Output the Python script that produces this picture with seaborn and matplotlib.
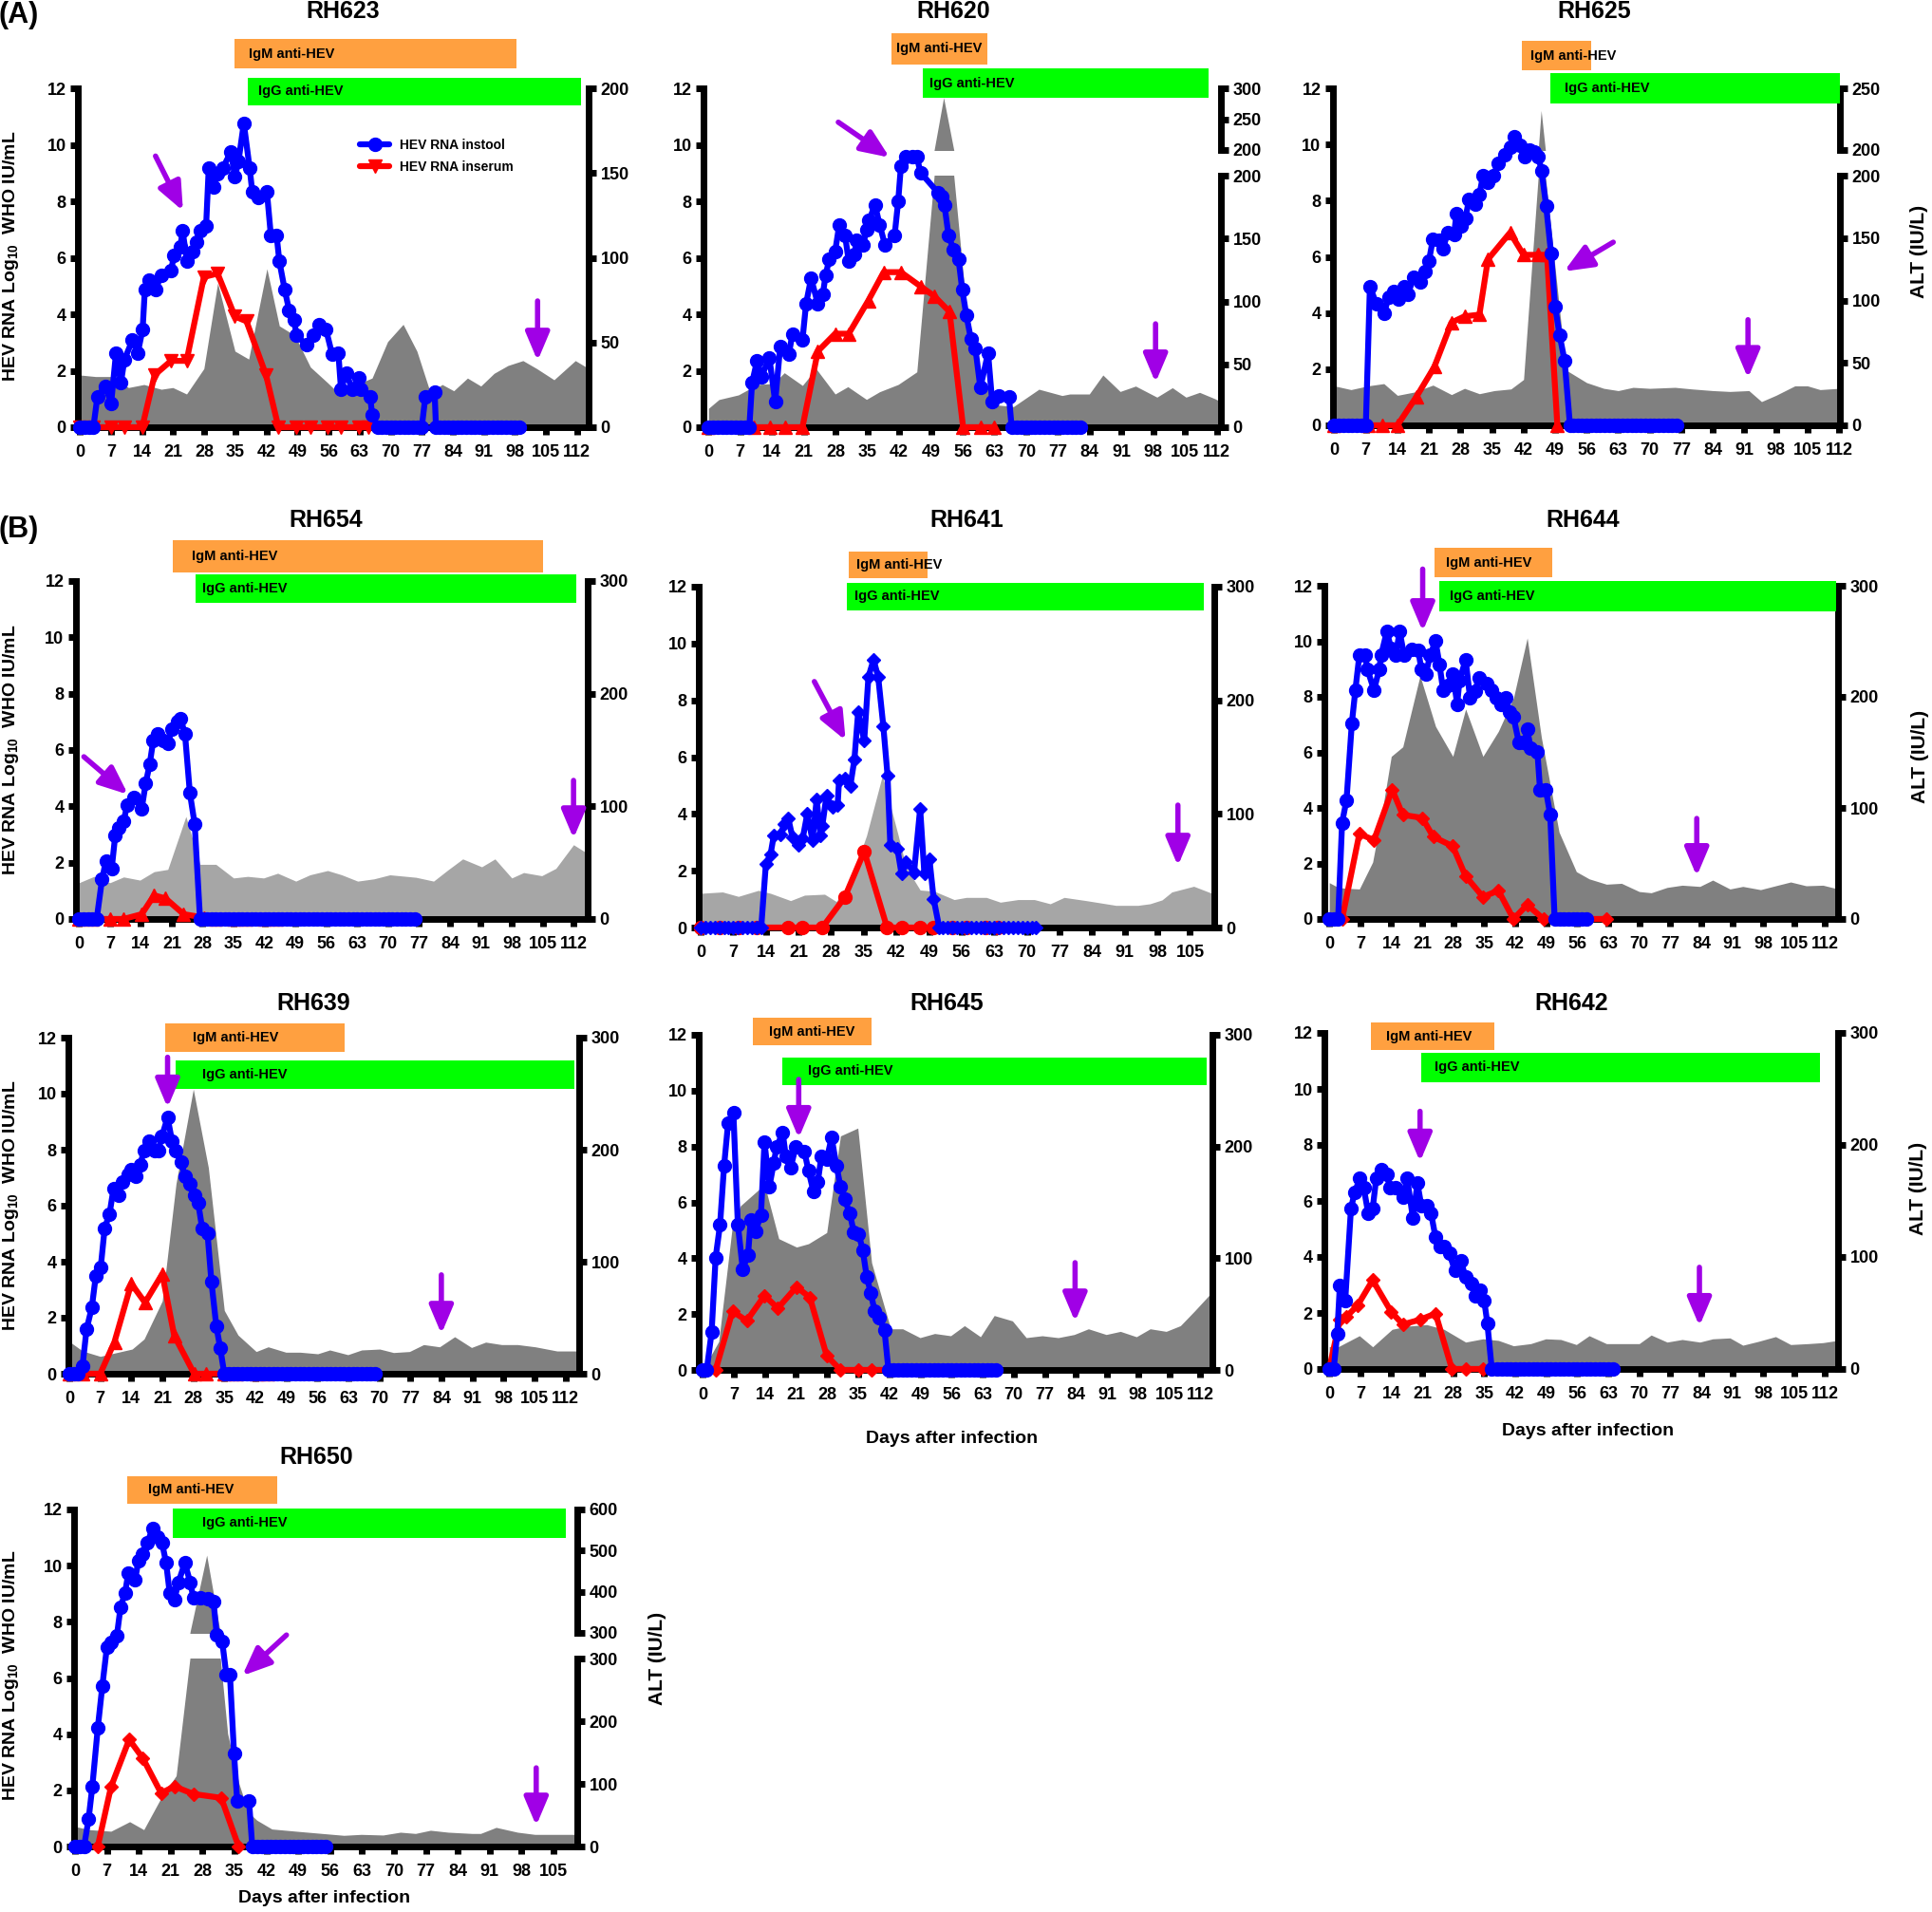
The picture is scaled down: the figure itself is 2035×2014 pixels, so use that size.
import matplotlib
matplotlib.use("Agg")
import matplotlib.pyplot as plt
import seaborn as sns
from matplotlib.patches import Rectangle

# ---------------- DATA (days after infection / values) ----------------
# RH623
rh623_stool_day = [0, 1, 2, 3, 3.9, 5.7, 7, 8.1, 9.2, 10, 11.8, 13, 14.1, 14.6, 15.6, 17, 18.3, 20.5, 21.2, 22.6, 23.1,
                   24.1, 25.4, 26.2, 27.2, 28.4, 29, 30.1, 31, 32.2, 34, 34.9, 35.7, 36.9, 38.2, 38.8, 40.1, 42.1, 43,
                   44.3, 44.9, 46.1, 47.1, 48.2, 48.8, 51, 52.6, 53.8, 55.4, 56.8, 58.2, 58.8, 60, 61.3, 62.8, 63.2,
                   65.4, 65.8, 67.1,
                   68, 69, 70, 71, 72, 73, 74, 75, 76, 77,
                   77.8, 79.9, 80.2,
                   81, 82, 83, 84, 85, 86, 87, 88, 89, 90, 91, 92, 93, 94, 95, 96, 97, 98, 99]
rh623_stool = [0, 0, 0, 0, 1.07, 1.46, 0.84, 2.63, 1.57, 2.4, 3.08, 2.63, 3.47, 4.88, 5.21, 4.88, 5.38, 5.55, 6.1, 6.39,
               6.95, 5.88, 6.22, 6.56, 6.95, 7.12, 9.19, 8.52, 8.97, 9.19, 9.75, 8.86, 9.42, 10.76, 9.19, 8.35, 8.13,
               8.35, 6.78, 6.78, 5.88, 4.88, 4.15, 3.81, 3.25, 2.91, 3.25, 3.64, 3.47, 2.58, 2.63, 1.35, 1.91, 1.35,
               1.74, 1.35, 1.07, 0.45, 0,
               0, 0, 0, 0, 0, 0, 0, 0, 0, 0,
               1.07, 1.23, 0,
               0, 0, 0, 0, 0, 0, 0, 0, 0, 0, 0, 0, 0, 0, 0, 0, 0, 0, 0]
rh623_serum_day = [0, 3, 7, 10, 14, 16.8, 20.5, 24, 27.9, 31, 34.9, 37.5, 41.9, 44.7, 48.8, 51.9, 55.8, 58.8, 62.8, 65]
rh623_serum = [0, 0, 0, 0, 0, 1.85, 2.35, 2.35, 5.32, 5.44, 3.92, 3.75, 1.85, 0, 0, 0, 0, 0, 0, 0]
rh623_alt_day = [0, 3.5, 7, 10.9, 14.4, 18.3, 20.9, 24, 27.9, 31, 34.9, 38, 42.1, 44.9, 48.4, 51.9, 55.8, 58.8, 62.3,
                 65.8, 69.3, 72.8, 75.9, 78.9, 81.6, 84.2, 87.3, 90.3, 93.3, 96.4, 99.8, 102.9, 106.8, 111.6, 114.6]
rh623_alt = [30.8, 29.9, 29.9, 23.4, 25.2, 22.4, 23.4, 19.6, 34.6, 85, 44.9, 40.2, 93.5, 59.8, 54.2, 35.5, 26.2, 18.7,
             25.2, 29, 50.5, 60.7, 44.9, 20.6, 25.2, 21.5, 29, 24.3, 31.8, 36.4, 39.3, 34.6, 28, 39.3, 34.6]
rh623_igm = (34.7, 98.4)
rh623_igg = (37.9, 112.8)

# RH620
rh620_stool_day = [0, 1, 2, 3, 4, 5, 6, 7, 8, 9,
                   9.6, 10.7, 11.7, 13.4, 14.7, 15.8, 17.7, 18.5, 20.7, 21.5, 22.6, 24.1, 25.2, 25.8, 26.6, 27.9,
                   28.8, 30.1, 30.9, 32.2, 32.6, 34.1, 34.8, 35.4, 36.7, 37.7, 38.9, 41, 41.8, 42.4, 43.4, 45, 45.9,
                   46.7, 50.6, 51.4, 52, 52.9, 54, 55.1, 55.9, 56.8, 57.8, 58.8, 59.9, 61.6, 62.5, 64, 66.2, 66.8,
                   68, 69, 70, 71, 72, 73, 74, 75, 76, 77, 78, 79, 80, 81, 82]
rh620_stool = [0, 0, 0, 0, 0, 0, 0, 0, 0, 0,
               1.57, 2.35, 1.79, 2.47, 0.9, 2.86, 2.58, 3.31, 3.08, 4.37, 5.27, 4.37, 4.71, 5.38, 5.94, 6.22, 7.15,
               6.78, 5.88, 6.11, 6.61, 6.45, 7.0, 7.34, 7.87, 7.17, 6.45, 6.78, 8.01, 9.25, 9.58, 9.58, 9.58, 9.02,
               8.3, 8.18, 7.85, 6.78, 6.28, 5.94, 4.88, 3.98, 3.14, 2.8, 1.4, 2.63, 0.9, 1.12, 1.07, 0,
               0, 0, 0, 0, 0, 0, 0, 0, 0, 0, 0, 0, 0, 0, 0]
rh620_serum_day = [0, 10, 13.6, 16.8, 20.7, 24.1, 27.9, 30.9, 35.2, 38.6, 42.4, 46.7, 49.7, 53.1, 56.1, 59.9, 62.9]
rh620_serum = [0, 0, 0, 0, 0, 2.69, 3.31, 3.31, 4.48, 5.49, 5.49, 4.99, 4.65, 4.09, 0, 0, 0]
rh620_alt_day = [0, 2.3, 6.6, 10.8, 14.3, 16.7, 20.7, 23.7, 27.9, 30.7, 34.8, 37.7, 41.8, 45.9, 51.8, 57, 60.4, 63.8,
                 67.2, 72.8, 77.9, 79.6, 83.9, 86.9, 90.7, 94.1, 98.8, 102.2, 105.2, 108.2, 111.6, 113]
rh620_alt = [15, 22, 25.7, 34, 34.7, 43.3, 33.2, 46.5, 26.4, 32.2, 22.1, 28.2, 34, 44, 285, 88, 37.7, 17.6, 16.4,
             30.2, 25.2, 26.4, 26.4, 41.5, 28.4, 32.7, 23.9, 31.4, 23.9, 27.7, 22.6, 20]
rh620_igm = (40.3, 61.4)
rh620_igg = (47.3, 110.2)

# RH625
rh625_stool_day = [0, 1, 2, 3, 4, 5, 6, 7,
                   7.9, 9.3, 11, 12.1, 13.1, 14.2, 15.4, 16.3, 17.7, 19.1, 20.1, 21, 21.9, 23.3, 24.1, 25.2, 26.6,
                   27.1, 28.2, 29.1, 29.9, 31.3, 32.2, 33, 34.1, 35.3, 36.4, 37.8, 39.2, 39.9, 41.1, 42.3, 43.4, 44.4,
                   45.3, 46, 47, 48.1, 49, 50, 51.1, 52.3,
                   53, 54, 55, 56, 57, 58, 59, 60, 61, 62, 63, 64, 65, 66, 67, 68, 69, 70, 71, 72, 73, 74, 75, 76]
rh625_stool = [0, 0, 0, 0, 0, 0, 0, 0,
               4.95, 4.33, 3.99, 4.56, 4.78, 4.5, 4.95, 4.67, 5.29, 5.12, 5.46, 5.85, 6.64, 6.58, 6.3, 6.86, 6.81,
               7.54, 7.09, 7.37, 8.04, 7.87, 8.21, 8.89, 8.66, 8.89, 9.34, 9.62, 9.9, 10.27, 9.96, 9.56, 9.79, 9.73,
               9.56, 9.06, 7.82, 6.13, 4.22, 3.21, 2.31, 0,
               0, 0, 0, 0, 0, 0, 0, 0, 0, 0, 0, 0, 0, 0, 0, 0, 0, 0, 0, 0, 0, 0, 0, 0]
rh625_serum_day = [0, 7.5, 10.7, 14, 18.2, 22.2, 26, 28.9, 32.2, 34.1, 39, 42, 45.3, 47.2, 49.5]
rh625_serum = [0, 0, 0, 0, 1.01, 2.08, 3.66, 3.88, 3.94, 5.91, 6.86, 6.07, 6.07, 6.07, 0]
rh625_alt_day = [0, 3.7, 7.5, 11, 14, 17.7, 21.9, 26, 28.9, 32.2, 35.5, 39.2, 42, 45.9, 51.4, 56, 59.8, 63, 66.3, 70,
                 75.6, 79.4, 84, 87.8, 92, 94.8, 98, 102.2, 105, 107.8, 112]
rh625_alt = [31.6, 28.6, 31.6, 33.4, 24, 26.6, 32.2, 24.6, 29.6, 25.3, 27.8, 29.1, 36.7, 232, 44.3, 34.2, 29.6, 27.8,
             30.4, 29.6, 30.4, 29.1, 27.8, 27.1, 27.8, 19, 24, 31.6, 31.6, 28.6, 29.6]
rh625_igm = (41.7, 57.1)
rh625_igg = (47.9, 112.3)

# RH654
rh654_stool_day = [0, 1, 2, 3, 4,
                   5.2, 6.1, 7.4, 8.2, 9, 10.1, 10.9, 12.4, 14.2, 15.1, 16, 16.8, 17.8, 19.1, 20.1, 21, 22.4, 23, 24,
                   25.1, 26.2, 27.4,
                   28, 29, 30, 31, 32, 33, 34, 35, 36, 37, 38, 39, 40, 41, 42, 43, 44, 45, 46, 47, 48, 49, 50, 51,
                   52, 53, 54, 55, 56, 57, 58, 59, 60, 61, 62, 63, 64, 65, 66, 67, 68, 69, 70, 71, 72, 73, 74, 75, 76]
rh654_stool = [0, 0, 0, 0, 0,
               1.4, 2.07, 1.79, 2.97, 3.25, 3.48, 4.04, 4.32, 3.92, 4.82, 5.49, 6.33, 6.56, 6.33, 6.22, 6.73, 7.01,
               7.12, 6.56, 4.48, 3.36, 0,
               0, 0, 0, 0, 0, 0, 0, 0, 0, 0, 0, 0, 0, 0, 0, 0, 0, 0, 0, 0, 0, 0, 0, 0,
               0, 0, 0, 0, 0, 0, 0, 0, 0, 0, 0, 0, 0, 0, 0, 0, 0, 0, 0, 0, 0, 0, 0, 0, 0]
rh654_serum_day = [0, 2.9, 7, 10.1, 14.2, 17, 19.6, 23.7, 28.3, 31, 35, 37.8, 41.8, 44.6]
rh654_serum = [0, 0, 0, 0, 0.17, 0.84, 0.73, 0.17, 0.05, 0, 0, 0, 0, 0]
rh654_alt_day = [0, 3.4, 7, 10.1, 13.8, 17, 20.1, 24.2, 27.4, 31, 35, 38.2, 41.8, 45, 49.1, 52.3, 56.3, 59.5, 63.1,
                 66.8, 70.4, 76.3, 80.3, 83.5, 86.9, 91.2, 94.2, 98, 100.7, 104.8, 108, 112, 115.2]
rh654_alt = [32.2, 37.8, 32.2, 37.3, 34.5, 42, 44, 91, 48.5, 48.5, 36.4, 37.8, 36.4, 40.6, 33.6, 39.2, 43, 39.2, 33.6,
             35.6, 39.2, 37, 33.6, 43.4, 53.3, 46.3, 53.3, 36.4, 41.2, 38.4, 44.9, 65.9, 58]
rh654_igm = (21.2, 105.2)
rh654_igg = (26.4, 112.7)

# RH641
rh641_stool_day = [0, 1, 2, 3, 4, 5, 6, 7, 8, 9, 10, 11, 12, 13,
                   14, 15, 15.7, 17.1, 18, 18.8, 19.7, 21, 21.9, 22.9, 24, 24.9, 25.7, 26.1, 27, 28.3, 29.4, 29.7,
                   30.9, 32.1, 33, 33.8, 35.1, 36, 37.1, 38.1, 39.2, 40.1, 40.7, 42.2, 43.1, 44.1, 45.8, 47.1, 48,
                   49.1, 50, 51.2,
                   52, 53, 54, 55, 56, 57, 58, 59, 60, 61, 62, 63, 64, 65, 66, 67, 68, 69, 70, 71, 72]
rh641_stool = [0, 0, 0, 0, 0, 0, 0, 0, 0, 0, 0, 0, 0, 0,
               2.23, 2.57, 3.24, 3.29, 3.63, 3.85, 3.18, 2.9, 3.13, 4.02, 3.07, 4.52, 3.24, 3.57, 4.63, 4.24, 4.3,
               5.19, 5.25, 4.97, 5.92, 7.59, 6.58, 8.82, 9.43, 8.82, 7.09, 5.36, 2.9, 2.79, 1.9, 2.29, 1.95, 4.19,
               1.9, 2.4, 1.0, 0,
               0, 0, 0, 0, 0, 0, 0, 0, 0, 0, 0, 0, 0, 0, 0, 0, 0, 0, 0, 0, 0]
rh641_serum_day = [0, 4, 8.1, 12, 18.8, 21.9, 26.1, 30.9, 35.1, 40, 43.1, 47.1, 50, 54, 57, 61.1, 63.8]
rh641_serum = [0, 0, 0, 0, 0, 0, 0, 1.06, 2.68, 0, 0, 0, 0, 0, 0, 0, 0]
rh641_alt_day = [0, 4.7, 8.1, 12.4, 15, 19.3, 22.3, 26.6, 29.1, 32.1, 35.6, 39, 42.4, 44.1, 47.1, 50.1, 54.4, 57,
                 61.3, 64.3, 68.1, 71.6, 75, 78, 82.7, 89.1, 93.8, 96.4, 99, 101.1, 105.8, 110.2]
rh641_alt = [30.1, 31.3, 27.4, 32.7, 30.1, 23.7, 28.5, 29.3, 22.9, 40, 81, 134, 81, 53, 33, 32, 24.6, 26.5, 26.5,
             22.3, 24.6, 24.6, 20.9, 26.5, 23.7, 19.5, 19.5, 20.9, 24.3, 31.3, 36.3, 29.3]
rh641_igm = (31.7, 48.6)
rh641_igg = (31.4, 108)

# RH644
rh644_stool_day = [0, 1, 2,
                   2.9, 3.9, 5.1, 5.9, 6.8, 8.1, 8.6, 10.1, 11.3, 11.7, 13, 14, 15, 15.9, 16.9, 18.6, 20.1, 20.8,
                   21.8, 22.8, 24, 24.9, 25.7, 26.7, 27.9, 28.9, 29.4, 30.8, 31.8, 32.9, 33.8, 35.5, 36.7, 37.7, 38.8,
                   39.8, 40.8, 41.6, 42.8, 44, 44.7, 45.5, 47, 47.6, 48.9, 49.9, 50.9,
                   52, 53, 54, 55, 56, 57, 58]
rh644_stool = [0, 0, 0,
               3.47, 4.29, 7.05, 8.25, 9.5, 9.5, 8.99, 8.25, 8.99, 9.5, 10.35, 9.73, 9.5, 10.35, 9.5, 9.7, 9.67,
               8.99, 8.82, 9.5, 10.01, 9.16, 8.25, 8.42, 8.82, 7.74, 8.59, 9.33, 7.96, 8.19, 8.7, 8.48, 8.25, 7.96,
               7.74, 7.96, 7.45, 7.28, 6.37, 6.37, 6.83, 6.14, 6.03, 4.66, 4.66, 3.75, 0,
               0, 0, 0, 0, 0, 0, 0]
rh644_serum_day = [0, 2.9, 6.8, 10.1, 14.2, 16.6, 21, 23.5, 27.9, 30.8, 34.7, 38.2, 41.6, 44.7, 48.4, 51.4, 55.3,
                   58.4, 62.6]
rh644_serum = [0, 0, 3.07, 2.84, 4.66, 3.75, 3.64, 2.96, 2.62, 1.54, 0.8, 1.02, 0, 0.51, 0, 0, 0, 0, 0]
rh644_alt_day = [0, 2, 3.9, 6.8, 9.8, 12, 14, 16.6, 20.5, 24, 27.9, 30.8, 34.7, 38.2, 41.6, 44.7, 47.9, 51.9, 55.8,
                 58.7, 62.6, 66, 70, 72.7, 76.3, 79.7, 83.7, 86.6, 90.5, 93.4, 97.4, 101.3, 104.2, 107.7, 111.5, 114.9]
rh644_alt = [32.7, 28.4, 27.6, 27, 51.2, 98, 146.4, 155, 219, 173.4, 146.4, 189, 146.4, 169, 199, 253, 163.5, 78.2,
             42.6, 36.1, 31.3, 32.1, 24.7, 23.6, 28.4, 30.4, 29.3, 35, 27, 29.3, 26.4, 30.4, 33.3, 29.9, 30.4, 27]
rh644_igm = (23.8, 50.4)
rh644_igg = (24.9, 114.4)

# RH639
rh639_stool_day = [0, 1, 2,
                   3, 3.9, 5.1, 6, 7.1, 8, 9.1, 10, 11.2, 12, 13.2, 14, 15.1, 16, 16.9, 18, 19.2, 20.1, 20.9, 22.2,
                   23.2, 24.1, 25.2, 26.1, 27.3, 28.4, 29.1, 30, 31.2, 32.1, 33.2, 34.1, 35,
                   36, 37, 38, 39, 40, 41, 42, 43, 44, 45, 46, 47, 48, 49, 50, 51, 52, 53, 54, 55, 56, 57, 58, 59,
                   60, 61, 62, 63, 64, 65, 66, 67, 68, 69]
rh639_stool = [0, 0, 0,
               0.28, 1.58, 2.37, 3.5, 3.79, 5.2, 5.71, 6.61, 6.38, 6.84, 7.12, 7.29, 7.06, 7.46, 7.97, 8.31, 7.97,
               7.97, 8.47, 9.15, 8.31, 7.97, 7.57, 7.06, 6.78, 6.38, 6.1, 5.2, 5.03, 3.28, 1.7, 0.9, 0,
               0, 0, 0, 0, 0, 0, 0, 0, 0, 0, 0, 0, 0, 0, 0, 0, 0, 0, 0, 0, 0, 0, 0, 0,
               0, 0, 0, 0, 0, 0, 0, 0, 0, 0]
rh639_serum_day = [0, 3, 7, 10.2, 14, 17.1, 21, 23.7, 28.2, 30.9, 35, 37.7, 42.2, 44.9]
rh639_serum = [0, 0, 0, 1.13, 3.22, 2.54, 3.56, 1.36, 0, 0, 0, 0, 0, 0]
rh639_alt_day = [0, 3, 7, 10.2, 14.2, 16.9, 21, 24.1, 28, 31.4, 35, 38.1, 42.2, 44.9, 48.9, 52.1, 56.1, 58.8, 62.9,
                 66, 70.1, 73.2, 76.8, 80, 83.6, 87, 90.8, 94, 97.6, 101.2, 105.2, 110.1, 115.1]
rh639_alt = [28.8, 20.3, 15.5, 18.4, 22, 31, 65, 169.5, 254, 184, 56.5, 34.5, 19.8, 24, 19.2, 19.2, 17.8, 21.2, 17,
             21.2, 22, 18.9, 19.8, 26, 24, 33, 23.4, 28.2, 26, 26, 24, 20.3, 20.3]
rh639_igm = (21.6, 62.2)
rh639_igg = (24.1, 114)

# RH645
rh645_stool_day = [0, 0.9,
                   2, 2.9, 3.9, 4.8, 5.7, 6.9, 7.9, 9, 10.2, 10.8, 11.9, 13.1, 13.9, 15, 16, 16.6, 18, 18.7, 19.8,
                   20.9, 22.9, 23.8, 24.9, 25.9, 26.7, 27.9, 29, 30.1, 31, 31.9, 33.1, 34, 35.1, 36, 36.9, 37.8, 38.7,
                   39.7, 40.9, 41.8,
                   43, 44, 45, 46, 47, 48, 49, 50, 51, 52, 53, 54, 55, 56, 57, 58, 59, 60, 61, 62, 63, 64, 65, 66]
rh645_stool = [0, 0,
               1.36, 4.02, 5.21, 7.3, 8.83, 9.2, 5.21, 3.62, 4.13, 5.38, 4.98, 5.55, 8.15, 6.57, 7.42, 7.98, 8.49,
               7.64, 7.25, 7.98, 7.81, 7.13, 6.4, 6.74, 7.64, 7.53, 8.32, 7.3, 6.57, 6.12, 5.61, 4.93, 4.87, 4.3,
               3.34, 2.77, 2.1, 1.87, 1.42, 0,
               0, 0, 0, 0, 0, 0, 0, 0, 0, 0, 0, 0, 0, 0, 0, 0, 0, 0, 0, 0, 0, 0, 0, 0]
rh645_serum_day = [0, 2.9, 6.7, 9.9, 13.9, 16.9, 21.1, 24.1, 27.9, 31, 34.9, 38, 41.8, 44.8]
rh645_serum = [0, 0, 2.1, 1.76, 2.66, 2.21, 2.97, 2.6, 0.51, 0, 0, 0, 0, 0]
rh645_alt_day = [0, 3.6, 6.7, 8.5, 13.9, 17.1, 21.1, 23.8, 27.9, 31, 34.9, 38, 42.3, 45, 48.9, 52.2, 55.8, 58.9, 62.5,
                 65.6, 69.7, 72.8, 76.4, 80, 83.6, 86.8, 90.8, 94, 97.6, 100.7, 104.3, 107.5, 110.6, 114.7]
rh645_alt = [0, 25.5, 130, 147, 166, 117.5, 110, 113, 123, 209.5, 216.5, 96, 36.8, 36.8, 28.9, 32.6, 30.6, 39.6,
             29.7, 48.7, 43.9, 28.9, 30.6, 28.9, 31.7, 36.8, 31.7, 34.5, 29.7, 36.8, 34.5, 39.6, 52.4, 70]
rh645_igm = (11.3, 38)
rh645_igg = (17.8, 113.5)

# RH642
rh642_stool_day = [0, 1,
                   1.8, 2.4, 3.6, 4.9, 5.7, 6.9, 7.8, 8.8, 9.8, 10.6, 11.7, 13, 13.7, 15, 16.6, 17.6, 18.9, 19.9,
                   20.8, 22, 23, 24, 25, 25.9, 27.1, 28.4, 29.7, 30.8, 32.1, 33, 34, 35, 35.7, 36.7,
                   38, 39, 40, 41, 42, 43, 44, 45, 46, 47, 48, 49, 50, 51, 52, 53, 54, 55, 56, 57, 58, 59, 60, 61,
                   62, 63, 64]
rh642_stool = [0, 0,
               1.25, 3.0, 2.43, 5.72, 6.29, 6.8, 6.46, 5.55, 5.72, 6.8, 7.13, 6.96, 6.46, 6.46, 6.12, 6.8, 5.38,
               6.63, 5.83, 5.83, 5.55, 4.7, 4.36, 4.36, 4.13, 3.51, 3.85, 3.28, 3.06, 2.6, 2.83, 2.43, 1.64, 0,
               0, 0, 0, 0, 0, 0, 0, 0, 0, 0, 0, 0, 0, 0, 0, 0, 0, 0, 0, 0, 0, 0, 0, 0,
               0, 0, 0]
rh642_serum_day = [0, 2.4, 3.9, 6.4, 9.8, 14, 16.6, 20.5, 24, 27.7, 30.8, 34.7, 37.7, 41.6]
rh642_serum = [0, 1.76, 1.87, 2.27, 3.17, 2.04, 1.59, 1.76, 1.98, 0, 0, 0, 0, 0]
rh642_alt_day = [0, 2, 6.8, 9.8, 14.2, 17.6, 22, 25.9, 30.8, 34.7, 38.2, 41.6, 45.5, 48.9, 52.3, 55.8, 58.7, 62.6, 66,
                 70, 72.7, 76.3, 79.7, 83.7, 86.6, 90.5, 93.4, 96.9, 100.8, 104.2, 108.1, 111.5, 114.9]
rh642_alt = [20, 19.8, 29.7, 19.8, 35.4, 38.2, 39.6, 35.4, 24, 26.9, 25.5, 20.7, 22.6, 26.9, 26.3, 21.8, 29.7, 22.6,
             22.6, 22.6, 30.3, 24, 26.3, 24, 26.9, 27.7, 21.2, 24.6, 28.9, 21.8, 22.6, 23.5, 25.5]
rh642_igm = (9.4, 37.2)
rh642_igg = (20.8, 110.8)

# RH650
rh650_stool_day = [0, 1, 2,
                   3, 3.8, 5, 6, 7, 7.9, 9.2, 10, 11, 11.7, 13.2, 13.9, 14.9, 15.9, 17, 18.1, 19.1, 20, 20.8, 21.8,
                   22.7, 24.1, 25.3, 26, 27.5, 29.2, 30.4, 31.1, 32.3, 33.2, 34, 34.9, 35.6, 38.2, 38.9,
                   40, 41, 42, 43, 44, 45, 46, 47, 48, 49, 50, 51, 52, 53, 54, 55]
rh650_stool = [0, 0, 0,
               0.99, 2.12, 4.21, 5.71, 7.09, 7.26, 7.51, 8.52, 9.03, 9.74, 9.49, 10.16, 10.42, 10.81, 11.32, 11.02,
               10.81, 10.1, 9.01, 8.78, 9.4, 10.1, 9.4, 8.84, 8.84, 8.81, 8.72, 7.54, 7.31, 6.13, 6.13, 3.31, 1.61,
               1.61, 0,
               0, 0, 0, 0, 0, 0, 0, 0, 0, 0, 0, 0, 0, 0, 0, 0]
rh650_serum_day = [5, 7.9, 11.9, 14.9, 18.9, 21.8, 26, 32.1, 35.9]
rh650_serum = [0, 2.12, 3.81, 3.14, 1.9, 2.14, 1.87, 1.73, 0]
rh650_alt_day = [0, 3.1, 7.9, 12, 15.1, 18.9, 22.2, 25.3, 28.9, 31.9, 33.5, 36, 38, 39.9, 43.2, 48.5, 54.2, 59, 62.8,
                 67.6, 71.4, 74.7, 78, 81.9, 87.1, 89, 92.4, 97.1, 100.9, 104.7, 110.2]
rh650_alt = [32, 26.9, 24.4, 39.6, 26.9, 77.7, 113, 305, 489, 300, 180, 100, 55, 42, 27.9, 24.4, 20.8, 17.8, 19.3,
             18.3, 22.8, 20.8, 25.9, 22.8, 20.8, 20.8, 30.5, 22.8, 19.3, 19.3, 19.3]
rh650_igm = (11.5, 44.4)
rh650_igg = (21.5, 107.8)

# ---------------- STYLE ----------------
sns.set_style("ticks")
plt.rcParams["font.family"] = ["Liberation Sans", "DejaVu Sans"]
plt.rcParams["font.weight"] = "bold"
plt.rcParams["mathtext.fontset"] = "custom"
plt.rcParams["mathtext.rm"] = "Liberation Sans"
plt.rcParams["mathtext.bf"] = "Liberation Sans:bold"
for key in ["axes.edgecolor", "xtick.color", "ytick.color", "text.color", "axes.labelcolor"]:
    plt.rcParams[key] = "black"

BLUE, RED = "#0000FF", "#FF0000"
DARK, LIGHT = "#808080", "#A6A6A6"
ORANGE, GREEN, PURPLE = "#FFA040", "#00FF00", "#A000E6"
LW = 5.0
W, H = 2035, 2014

fig = plt.figure(figsize=(W / 100, H / 100), dpi=100)


def rect(left, right, top, bottom):
    return [left / W, 1 - bottom / H, (right - left) / W, (bottom - top) / H]


def fxy(x, y):
    return x / W, 1 - y / H


PANELS = [
    dict(name="RH623", stool=(rh623_stool_day, rh623_stool), serum=(rh623_serum_day, rh623_serum),
         alt=(rh623_alt_day, rh623_alt), igm=rh623_igm, igg=rh623_igg,
         box=(82, 620, 93, 450), xlim=(-0.5, 114.6), last=112,
         right=[(93, 450, (0, 200), [0, 50, 100, 150, 200])],
         bar_y=((12.7, 13.75), (11.4, 12.37)), dx=(15, 11), title=(361, 12), grey=DARK,
         sm="o", rm="v", arrows=[((17, 9.6), (23.2, 7.66)), ((103.1, 4.47), (103.1, 2.35))]),
    dict(name="RH620", stool=(rh620_stool_day, rh620_stool), serum=(rh620_serum_day, rh620_serum),
         alt=(rh620_alt_day, rh620_alt), igm=rh620_igm, igg=rh620_igg,
         box=(741, 1286, 93, 450), xlim=(-1.1, 112.9),
         right=[(185, 450, (0, 200), [0, 50, 100, 150, 200]), (93, 158, (200, 300), [200, 250, 300])],
         bar_y=((12.84, 13.95), (11.66, 12.7)), dx=(5, 7), title=(1004, 12), grey=DARK, last=112,
         sm="o", rm="^", arrows=[((28.6, 10.8), (39.9, 9.55)), ((98.5, 3.66), (98.5, 1.58))]),
    dict(name="RH625", stool=(rh625_stool_day, rh625_stool), serum=(rh625_serum_day, rh625_serum),
         alt=(rh625_alt_day, rh625_alt), igm=rh625_igm, igg=rh625_igg,
         box=(1404, 1938, 93, 448), xlim=(-0.3, 112.2),
         right=[(185, 448, (0, 200), [0, 50, 100, 150, 200]), (93, 158, (200, 250), [200, 250])],
         bar_y=((12.64, 13.68), (11.46, 12.54)), dx=(9, 15), title=(1679, 12), grey=DARK, last=112,
         sm="o", rm="^", arrows=[((61.9, 6.52), (51, 5.48)), ((91.8, 3.76), (91.8, 1.68))],
         alt_label=(2021, 265)),
    dict(name="RH654", stool=(rh654_stool_day, rh654_stool), serum=(rh654_serum_day, rh654_serum),
         alt=(rh654_alt_day, rh654_alt), igm=rh654_igm, igg=rh654_igg,
         box=(80, 619, 612, 968), xlim=(-0.7, 115.2),
         right=[(612, 968, (0, 300), [0, 100, 200, 300])],
         bar_y=((12.3, 13.45), (11.22, 12.23)), dx=(20, 7), title=(343, 548), grey=LIGHT, last=112,
         sm="o", rm="^", arrows=[((1.1, 5.76), (11.1, 4.42)), ((112, 4.92), (112, 2.86))]),
    dict(name="RH641", stool=(rh641_stool_day, rh641_stool), serum=(rh641_serum_day, rh641_serum),
         alt=(rh641_alt_day, rh641_alt), igm=rh641_igm, igg=rh641_igg,
         box=(736, 1279, 618, 977), xlim=(-0.4, 110.2),
         right=[(618, 977, (0, 300), [0, 100, 200, 300])],
         bar_y=((12.3, 13.24), (11.17, 12.14)), dx=(8, 8), title=(1018, 548), grey=LIGHT, last=105,
         sm="D", rm="o", arrows=[((24.4, 8.66), (31.1, 6.59)), ((102.4, 4.31), (102.4, 2.17))]),
    dict(name="RH644", stool=(rh644_stool_day, rh644_stool), serum=(rh644_serum_day, rh644_serum),
         alt=(rh644_alt_day, rh644_alt), igm=rh644_igm, igg=rh644_igg,
         box=(1395, 1936, 617, 968), xlim=(-1.1, 114.9),
         right=[(617, 968, (0, 300), [0, 100, 200, 300])],
         bar_y=((12.3, 13.37), (11.08, 12.17)), dx=(12, 11), title=(1667, 548), grey=DARK, last=112,
         sm="o", rm="D", arrows=[((21.1, 12.6), (21.1, 10.36)), ((83, 3.62), (83, 1.54))],
         alt_label=(2022, 797)),
    dict(name="RH639", stool=(rh639_stool_day, rh639_stool), serum=(rh639_serum_day, rh639_serum),
         alt=(rh639_alt_day, rh639_alt), igm=rh639_igm, igg=rh639_igg,
         box=(72, 610, 1093, 1447), xlim=(-0.2, 115.1),
         right=[(1093, 1447, (0, 300), [0, 100, 200, 300])],
         bar_y=((11.5, 12.5), (10.17, 11.19)), dx=(29, 28), title=(330, 1057), grey=DARK, last=112,
         sm="o", rm="^", arrows=[((22.2, 11.3), (22.2, 9.5)), ((84, 3.53), (84, 1.42))]),
    dict(name="RH645", stool=(rh645_stool_day, rh645_stool), serum=(rh645_serum_day, rh645_serum),
         alt=(rh645_alt_day, rh645_alt), igm=rh645_igm, igg=rh645_igg,
         box=(736, 1277, 1090, 1443), xlim=(-0.9, 114.7),
         right=[(1090, 1443, (0, 300), [0, 100, 200, 300])],
         bar_y=((11.63, 12.6), (10.2, 11.2)), dx=(17, 27), title=(997, 1057), grey=DARK, last=112,
         sm="o", rm="D", arrows=[((21.6, 10.4), (21.6, 8.3)), ((83.8, 3.84), (83.8, 1.73))],
         xlabel=(1003, 1515)),
    dict(name="RH642", stool=(rh642_stool_day, rh642_stool), serum=(rh642_serum_day, rh642_serum),
         alt=(rh642_alt_day, rh642_alt), igm=rh642_igm, igg=rh642_igg,
         box=(1395, 1936, 1088, 1442), xlim=(-1.1, 114.9),
         right=[(1088, 1442, (0, 300), [0, 100, 200, 300])],
         bar_y=((11.39, 12.37), (10.24, 11.29)), dx=(16, 14), title=(1655, 1057), grey=DARK, last=112,
         sm="o", rm="D", arrows=[((20.5, 9.2), (20.5, 7.4)), ((83.6, 3.63), (83.6, 1.53))],
         alt_label=(2020, 1252), xlabel=(1673, 1507)),
    dict(name="RH650", stool=(rh650_stool_day, rh650_stool), serum=(rh650_serum_day, rh650_serum),
         alt=(rh650_alt_day, rh650_alt), igm=rh650_igm, igg=rh650_igg,
         box=(78, 608, 1590, 1945), xlim=(-0.2, 110.2),
         right=[(1747, 1945, (0, 300), [0, 100, 200, 300]), (1590, 1720, (300, 600), [300, 400, 500, 600])],
         bar_y=((12.2, 13.2), (11.0, 12.03)), dx=(22, 31), title=(333, 1535), grey=DARK, last=105,
         sm="o", rm="D", arrows=[((46.4, 7.53), (36.7, 6.08)), ((101.2, 2.8), (101.2, 0.74))],
         alt_label=(692, 1747), xlabel=(342, 2000)),
]

YLABEL = r"HEV RNA Log$_{\mathbf{10}}$  WHO IU/mL"
LEFT_YLABELS = {"RH623": 270, "RH654": 790, "RH639": 1270, "RH650": 1765}
MSZ = {"o": 10, "^": 9.5, "v": 9.5, "D": 7.5}

for p in PANELS:
    left, right, top, bottom = p["box"]

    # ALT (grey area) on the right axis, broken in two pieces where the peak is tall
    for (t, b, ylim, ticks) in p["right"]:
        a = fig.add_axes(rect(left, right, t, b))
        a.set_zorder(1)
        a.fill_between(p["alt"][0], p["alt"][1], color=p["grey"], lw=0)
        a.set_xlim(p["xlim"])
        a.set_ylim(ylim)
        a.yaxis.tick_right()
        a.set_yticks(ticks)
        a.set_xticks([])
        for s in ["left", "top", "bottom"]:
            a.spines[s].set_visible(False)
        a.spines["right"].set_linewidth(LW)
        a.patch.set_visible(False)
        a.tick_params(axis="y", direction="out", length=6, width=LW, labelsize=13, pad=3)

    # HEV RNA on the left axis
    ax = fig.add_axes(rect(left, right, top, bottom))
    ax.set_zorder(5)
    ax.patch.set_visible(False)

    # antibody bars
    (m0, m1), (g0, g1) = p["bar_y"]
    ax.add_patch(Rectangle((p["igm"][0], m0), p["igm"][1] - p["igm"][0], m1 - m0, facecolor=ORANGE,
                           edgecolor="none", clip_on=False, zorder=1))
    ax.add_patch(Rectangle((p["igg"][0], g0), p["igg"][1] - p["igg"][0], g1 - g0, facecolor=GREEN,
                           edgecolor="none", clip_on=False, zorder=1))
    ax.annotate("IgM anti-HEV", xy=(p["igm"][0], (m0 + m1) / 2), xytext=(p["dx"][0], 0),
                textcoords="offset pixels", va="center", ha="left", fontsize=10.5, fontweight="bold",
                annotation_clip=False, zorder=2)
    ax.annotate("IgG anti-HEV", xy=(p["igg"][0], (g0 + g1) / 2), xytext=(p["dx"][1], 0),
                textcoords="offset pixels", va="center", ha="left", fontsize=10.5, fontweight="bold",
                annotation_clip=False, zorder=2)

    sns.lineplot(x=p["serum"][0], y=p["serum"][1], ax=ax, color=RED, lw=4.5, marker=p["rm"],
                 markersize=MSZ[p["rm"]], markeredgecolor=RED, markeredgewidth=1, estimator=None,
                 clip_on=False, zorder=3, label="HEV RNA inserum")
    sns.lineplot(x=p["stool"][0], y=p["stool"][1], ax=ax, color=BLUE, lw=4.5, marker=p["sm"],
                 markersize=MSZ[p["sm"]], markeredgecolor=BLUE, markeredgewidth=1, estimator=None,
                 clip_on=False, zorder=4, label="HEV RNA instool")
    if ax.get_legend() is not None:
        ax.get_legend().remove()

    for tail, head in p["arrows"]:
        ax.annotate("", xy=head, xytext=tail, annotation_clip=False,
                    arrowprops=dict(arrowstyle="-|>,head_length=0.9,head_width=0.38", color=PURPLE, lw=4,
                                    shrinkA=0, shrinkB=0, mutation_scale=20))

    ax.set_xlim(p["xlim"])
    ax.set_ylim(0, 12)
    ax.set_yticks([0, 2, 4, 6, 8, 10, 12])
    ax.set_xticks(list(range(0, p["last"] + 1, 7)))
    ax.set_xlabel("")
    ax.set_ylabel("")
    for s in ["right", "top"]:
        ax.spines[s].set_visible(False)
    for s in ["left", "bottom"]:
        ax.spines[s].set_linewidth(LW)
    ax.tick_params(axis="y", direction="out", length=6, width=LW, labelsize=13, pad=3)
    ax.tick_params(axis="x", direction="out", length=6, width=LW, labelsize=13, pad=7)

    if p["name"] == "RH623":
        handles, labels = ax.get_legend_handles_labels()
        ax.legend(handles[::-1], labels[::-1], loc="upper left", bbox_to_anchor=(0.54, 0.87), frameon=False,
                  handlelength=2.2, handletextpad=0.8, labelspacing=0.6, borderpad=0,
                  prop={"weight": "bold", "size": 10})

    fig.text(*fxy(*p["title"]), p["name"], ha="center", va="center", fontsize=18, fontweight="bold")
    if p["name"] in LEFT_YLABELS:
        fig.text(*fxy(12, LEFT_YLABELS[p["name"]]), YLABEL, rotation=90, ha="center", va="center",
                 fontsize=14, fontweight="bold")
    if "alt_label" in p:
        fig.text(*fxy(*p["alt_label"]), "ALT (IU/L)", rotation=90, ha="center", va="center",
                 fontsize=15, fontweight="bold")
    if "xlabel" in p:
        fig.text(*fxy(*p["xlabel"]), "Days after infection", ha="center", va="center",
                 fontsize=14, fontweight="bold")

fig.text(*fxy(20, 16), "(A)", ha="center", va="center", fontsize=22, fontweight="bold")
fig.text(*fxy(20, 558), "(B)", ha="center", va="center", fontsize=22, fontweight="bold")

fig.savefig("out.png", dpi=100)
